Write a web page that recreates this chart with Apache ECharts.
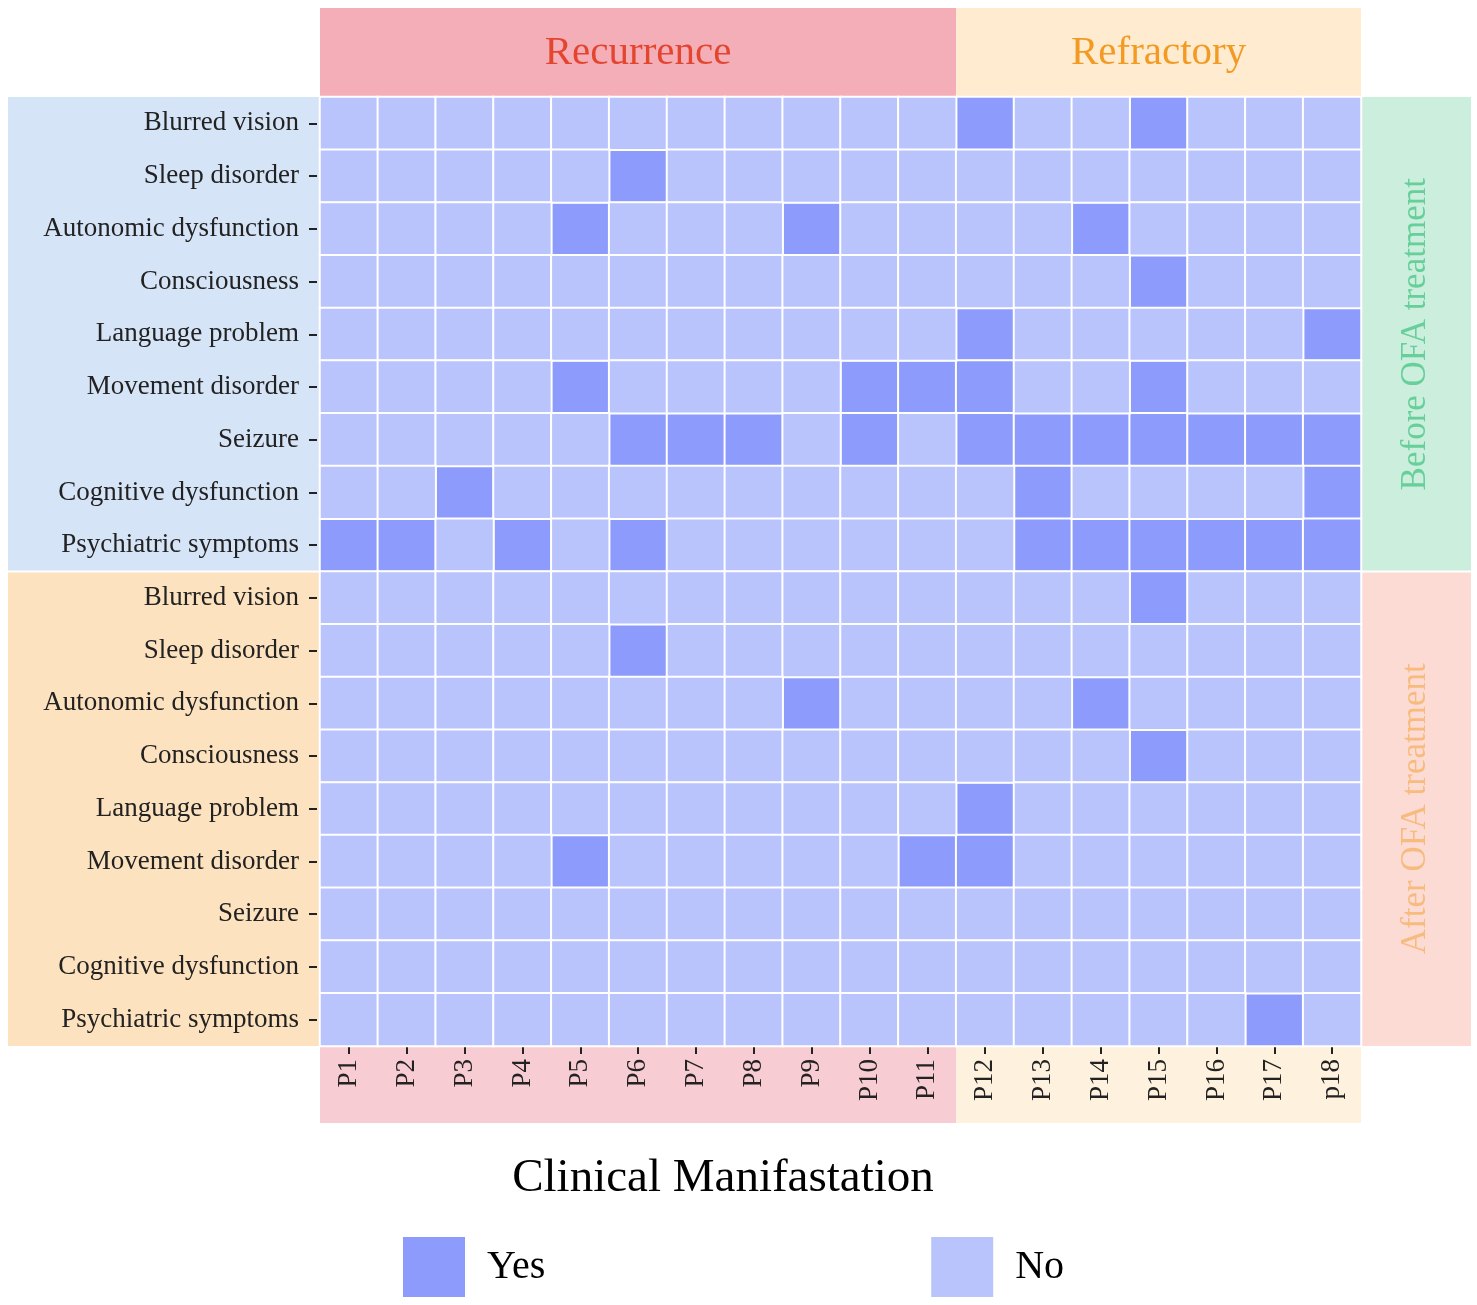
<!DOCTYPE html>
<html>
<head>
<meta charset="utf-8">
<script src="https://cdn.jsdelivr.net/npm/echarts@6/dist/echarts.min.js"></script>
<style>html,body{margin:0;padding:0;background:#fff;}#c{width:1477px;height:1305px;}</style>
</head>
<body>
<div id="c"></div>
<script>
// ---- data ----
const patients = ['P1','P2','P3','P4','P5','P6','P7','P8','P9','P10','P11','P12','P13','P14','P15','P16','P17','p18'];
const patientGroups = ['Recurrence', 'Refractory'];
const groupSizes = [11, 7];
const symptoms = ['Blurred vision','Sleep disorder','Autonomic dysfunction','Consciousness','Language problem','Movement disorder','Seizure','Cognitive dysfunction','Psychiatric symptoms'];
const phases = ['Before OFA treatment', 'After OFA treatment'];
// 1 = Yes, 0 = No ; columns P1..p18
const beforeOFA = [
  [0,0,0,0,0,0,0,0,0,0,0,1,0,0,1,0,0,0],
  [0,0,0,0,0,1,0,0,0,0,0,0,0,0,0,0,0,0],
  [0,0,0,0,1,0,0,0,1,0,0,0,0,1,0,0,0,0],
  [0,0,0,0,0,0,0,0,0,0,0,0,0,0,1,0,0,0],
  [0,0,0,0,0,0,0,0,0,0,0,1,0,0,0,0,0,1],
  [0,0,0,0,1,0,0,0,0,1,1,1,0,0,1,0,0,0],
  [0,0,0,0,0,1,1,1,0,1,0,1,1,1,1,1,1,1],
  [0,0,1,0,0,0,0,0,0,0,0,0,1,0,0,0,0,1],
  [1,1,0,1,0,1,0,0,0,0,0,0,1,1,1,1,1,1]
];
const afterOFA = [
  [0,0,0,0,0,0,0,0,0,0,0,0,0,0,1,0,0,0],
  [0,0,0,0,0,1,0,0,0,0,0,0,0,0,0,0,0,0],
  [0,0,0,0,0,0,0,0,1,0,0,0,0,1,0,0,0,0],
  [0,0,0,0,0,0,0,0,0,0,0,0,0,0,1,0,0,0],
  [0,0,0,0,0,0,0,0,0,0,0,1,0,0,0,0,0,0],
  [0,0,0,0,1,0,0,0,0,0,1,1,0,0,0,0,0,0],
  [0,0,0,0,0,0,0,0,0,0,0,0,0,0,0,0,0,0],
  [0,0,0,0,0,0,0,0,0,0,0,0,0,0,0,0,0,0],
  [0,0,0,0,0,0,0,0,0,0,0,0,0,0,0,0,1,0]
];

// ---- style ----
const FONT = '"Liberation Serif", "Times New Roman", serif';
const YES = '#8C9BFC', NO = '#B9C3FC';
const G = { left: 320, top: 97, width: 1041, height: 949 };

const rowLabels = symptoms.concat(symptoms);
const matrix = beforeOFA.concat(afterOFA);
const yesData = [], noData = [];
matrix.forEach((row, r) => row.forEach((v, c) => {
  (v ? yesData : noData).push([c, r, v]);
}));

const cellW = G.width / patients.length;
const cellH = G.height / rowLabels.length;
const splitX = G.left + groupSizes[0] * cellW;
const midY = G.top + symptoms.length * cellH;
const gRight = G.left + G.width;
const gBottom = G.top + G.height;

function rect(x, y, w, h, fill) {
  return { type: 'rect', z: -10, silent: true, shape: { x, y, width: w, height: h }, style: { fill } };
}
function text(x, y, t, size, fill, rot) {
  return { type: 'text', z: 10, silent: true, x, y, rotation: rot || 0,
    style: { text: t, x: 0, y: 0, fill, font: size + 'px ' + FONT, align: 'center', verticalAlign: 'middle' } };
}

const graphics = [
  // top header bands
  rect(G.left, 8, splitX - G.left, G.top - 8, '#F4AEB8'),
  rect(splitX, 8, gRight - splitX, G.top - 8, '#FEEBD0'),
  text((G.left + splitX) / 2, 53, patientGroups[0], 41, '#E4452F'),
  text((splitX + gRight) / 2, 53, patientGroups[1], 41, '#F39A22'),
  // left bands
  rect(8, G.top, G.left - 8, midY - G.top - 1, '#D6E4F7'),
  rect(8, midY + 1, G.left - 8, gBottom - midY - 1, '#FDE2BF'),
  // right bands
  rect(gRight + 1, G.top, 109, midY - G.top - 1, '#CCEEDD'),
  rect(gRight + 1, midY + 1, 109, gBottom - midY - 1, '#FCDBD4'),
  text(gRight + 55, (G.top + midY) / 2, phases[0], 35, '#66CF9A', Math.PI / 2),
  text(gRight + 55, (midY + gBottom) / 2, phases[1], 35, '#F8BB7E', Math.PI / 2),
  // bottom bands
  rect(G.left, gBottom, splitX - G.left, 77, '#F8CCD3'),
  rect(splitX, gBottom, gRight - splitX, 77, '#FEF1DE'),
  // title
  text(723, 1179, 'Clinical Manifastation', 47, '#000')
];

const chart = echarts.init(document.getElementById('c'), null, { renderer: 'canvas' });
chart.setOption({
  animation: false,
  backgroundColor: '#fff',
  grid: { left: G.left, top: G.top, width: G.width, height: G.height, containLabel: false },
  xAxis: {
    type: 'category', data: patients, position: 'bottom',
    axisLine: { show: false },
    axisTick: { show: true, alignWithLabel: true, length: 8, lineStyle: { color: '#222', width: 2 } },
    axisLabel: { rotate: 90, margin: 13, fontSize: 27, color: '#222', fontFamily: FONT },
    splitLine: { show: false }, splitArea: { show: false }
  },
  yAxis: {
    type: 'category', data: rowLabels, inverse: true, offset: 3,
    axisLine: { show: false },
    axisTick: { show: true, alignWithLabel: true, length: 8, lineStyle: { color: '#222', width: 2 } },
    axisLabel: { margin: 18, fontSize: 27, color: '#222', fontFamily: FONT },
    splitLine: { show: false }, splitArea: { show: false }
  },
  legend: {
    data: ['Yes', 'No'], left: 396, top: 1230, orient: 'horizontal',
    icon: 'rect', itemWidth: 64, itemHeight: 62, itemGap: 384,
    selectedMode: false,
    textStyle: { fontSize: 40, color: '#000', fontFamily: FONT, padding: [4, 0, 0, 16] }
  },
  series: [
    { name: 'Yes', type: 'heatmap', data: yesData,
      itemStyle: { color: YES, borderColor: '#fff', borderWidth: 2 }, emphasis: { disabled: true } },
    { name: 'No', type: 'heatmap', data: noData,
      itemStyle: { color: NO, borderColor: '#fff', borderWidth: 2 }, emphasis: { disabled: true } }
  ],
  graphic: { elements: graphics }
});
</script>
</body>
</html>
